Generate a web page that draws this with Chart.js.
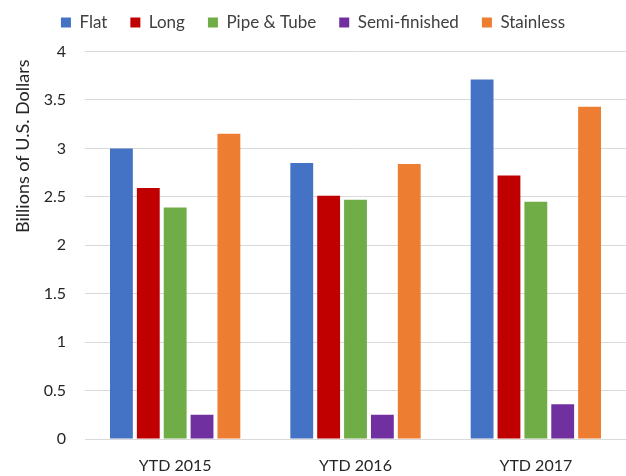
<!DOCTYPE html>
<html>
<head>
<meta charset="utf-8">
<script src="https://cdn.jsdelivr.net/npm/chart.js@4"></script>
<style>
html,body{margin:0;padding:0;background:#fff;}
#wrap{width:626px;height:476px;position:relative;}
</style>
</head>
<body>
<div id="wrap"><canvas id="c"></canvas></div>
<script>
const categories = ["YTD 2015", "YTD 2016", "YTD 2017"];
const flat = [3.00, 2.85, 3.71];
const long = [2.59, 2.51, 2.72];
const pipeTube = [2.39, 2.47, 2.45];
const semiFinished = [0.25, 0.25, 0.36];
const stainless = [3.15, 2.84, 3.43];
const seriesNames = ["Flat", "Long", "Pipe & Tube", "Semi-finished", "Stainless"];
const seriesColors = ["#4472C4", "#C00000", "#70AD47", "#7030A0", "#ED7D31"];
const yTicks = [0, 0.5, 1, 1.5, 2, 2.5, 3, 3.5, 4];
const yAxisTitle = "Billions of U.S. Dollars";

const seriesData = [flat, long, pipeTube, semiFinished, stainless];
const FONT = "Lato, 'Open Sans', sans-serif";

// y-axis title, top aligned near the highest tick of the y scale (Excel style)
const yTitle = {
  id: 'yTitle',
  afterDraw(chart) {
    const y = chart.scales.y;
    const ctx = chart.ctx;
    ctx.save();
    ctx.translate(23.5, y.getPixelForValue(yTicks[yTicks.length - 1]) + 8);
    ctx.rotate(-Math.PI / 2);
    ctx.textAlign = 'right';
    ctx.textBaseline = 'middle';
    ctx.fillStyle = '#262626';
    ctx.font = "18px " + FONT;
    ctx.fillText(yAxisTitle, 0, 0);
    ctx.restore();
  }
};

new Chart(document.getElementById('c'), {
  type: 'bar',
  data: {
    labels: categories,
    datasets: seriesNames.map((n, i) => ({
      label: n,
      data: seriesData[i],
      backgroundColor: seriesColors[i],
      borderWidth: 0,
      barPercentage: 0.85,
      categoryPercentage: 0.745
    }))
  },
  plugins: [yTitle],
  options: {
    responsive: true,
    maintainAspectRatio: false,
    animation: false,
    devicePixelRatio: 1,
    layout: { padding: { left: 0, right: 0, top: -9, bottom: 0 } },
    plugins: {
      legend: {
        position: 'top',
        align: 'center',
        labels: {
          boxWidth: 10, boxHeight: 10, padding: 23,
          color: '#404040',
          font: { family: FONT, size: 17 }
        }
      },
      tooltip: { enabled: false }
    },
    scales: {
      x: {
        grid: { display: false, drawTicks: false },
        border: { display: false },
        ticks: { color: '#262626', padding: 17, font: { family: FONT, size: 16 } },
        afterFit: (s) => { s.height = 37; }
      },
      xTopSpacer: {
        type: 'category',
        position: 'top',
        labels: categories,
        grid: { display: false, drawTicks: false },
        border: { display: false },
        ticks: { display: false },
        afterFit: (s) => { s.height = 10.5; }
      },
      y: {
        min: 0, max: 4,
        afterBuildTicks: (axis) => { axis.ticks = yTicks.map(v => ({ value: v })); },
        grid: { color: '#d9d9d9', lineWidth: 1, drawTicks: false },
        border: { display: false },
        ticks: { color: '#262626', padding: 19, font: { family: FONT, size: 16 }, callback: (v) => String(v) },
        afterFit: (s) => { s.width = 85; }
      }
    }
  }
});
</script>
</body>
</html>
